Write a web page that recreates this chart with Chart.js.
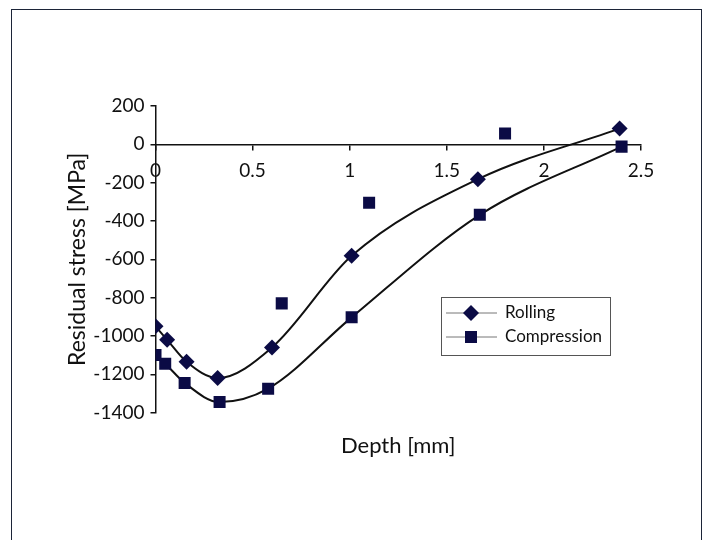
<!DOCTYPE html>
<html>
<head>
<meta charset="utf-8">
<script src="https://cdn.jsdelivr.net/npm/chart.js@4"></script>
<style>
  html, body { margin: 0; padding: 0; background: #fff; }
  #frame { position: absolute; left: 11px; top: 9px; width: 689px; height: 540px; border: 1.5px solid #1c2438; border-bottom: none; }
  #wrap { position: absolute; left: 0; top: 0; width: 707px; height: 540px; }
</style>
</head>
<body>
<div id="frame"></div>
<div id="wrap"><canvas id="stressChart"></canvas></div>
<script>
const rollingDepth = [0, 0.06, 0.16, 0.32, 0.6, 1.01, 1.66, 2.39];
const rollingStress = [-950, -1020, -1135, -1220, -1060, -582, -182, 82];

const compressionDepth = [0, 0.05, 0.15, 0.33, 0.58, 0.65, 1.01, 1.1, 1.67, 1.8, 2.4];
const compressionStress = [-1100, -1145, -1245, -1345, -1275, -830, -903, -305, -368, 57, -12];
// points the fitted curve runs through (the rest are scatter only)
const compressionOnCurve = [true, true, true, true, true, false, true, false, true, false, true];

const depthTicks = [0, 0.5, 1, 1.5, 2, 2.5];
const stressTicks = [-1400, -1200, -1000, -800, -600, -400, -200, 0, 200];

const markColor = "#0b0b45";
const fontFamily = "Lato, 'DejaVu Sans', sans-serif";

const toPoints = (xs, ys) => xs.map((x, i) => ({ x: x, y: ys[i] }));
const rollingPts = toPoints(rollingDepth, rollingStress);
const compressionPts = toPoints(compressionDepth, compressionStress);
const compressionCurvePts = compressionPts.filter((p, i) => compressionOnCurve[i]);

// legend drawn like the original: short line with marker in the middle
const boxLegend = {
  id: "boxLegend",
  afterDraw(chart) {
    const ctx = chart.ctx;
    const x0 = 441, y0 = 297, w = 169, h = 58;
    ctx.save();
    ctx.strokeStyle = "#555";
    ctx.lineWidth = 1;
    ctx.strokeRect(x0 + 0.5, y0 + 0.5, w, h);
    const rows = [
      { label: "Rolling", y: y0 + 16, style: "diamond" },
      { label: "Compression", y: y0 + 40, style: "square" }
    ];
    rows.forEach(r => {
      ctx.strokeStyle = "#777";
      ctx.lineWidth = 1;
      ctx.beginPath();
      ctx.moveTo(x0 + 5, r.y);
      ctx.lineTo(x0 + 56, r.y);
      ctx.stroke();
      ctx.fillStyle = markColor;
      const cx = x0 + 30;
      if (r.style === "diamond") {
        ctx.beginPath();
        ctx.moveTo(cx, r.y - 8);
        ctx.lineTo(cx + 8, r.y);
        ctx.lineTo(cx, r.y + 8);
        ctx.lineTo(cx - 8, r.y);
        ctx.closePath();
        ctx.fill();
      } else {
        ctx.fillRect(cx - 6, r.y - 6, 12, 12);
      }
      ctx.fillStyle = "#111";
      ctx.font = "17px " + fontFamily;
      ctx.textBaseline = "middle";
      ctx.textAlign = "left";
      ctx.fillText(r.label, x0 + 64, r.y);
    });
    ctx.restore();
  }
};

const stressChart = new Chart(document.getElementById("stressChart"), {
  type: "scatter",
  data: {
    datasets: [
      {
        label: "Rolling",
        data: rollingPts,
        pointStyle: "rectRot",
        pointRadius: 8,
        pointHoverRadius: 8,
        backgroundColor: markColor,
        borderColor: markColor,
        borderWidth: 0,
        showLine: false,
        order: 1
      },
      {
        label: "Compression",
        data: compressionPts,
        pointStyle: "rect",
        pointRadius: 8.5,
        pointHoverRadius: 8.5,
        backgroundColor: markColor,
        borderColor: markColor,
        borderWidth: 0,
        showLine: false,
        order: 1
      },
      {
        label: "Rolling fit",
        data: rollingPts,
        showLine: true,
        pointRadius: 0,
        borderColor: "#111",
        borderWidth: 2,
        cubicInterpolationMode: "monotone",
        order: 2
      },
      {
        label: "Compression fit",
        data: compressionCurvePts,
        showLine: true,
        pointRadius: 0,
        borderColor: "#111",
        borderWidth: 2,
        cubicInterpolationMode: "monotone",
        order: 2
      }
    ]
  },
  options: {
    responsive: true,
    maintainAspectRatio: false,
    animation: false,
    layout: { padding: { left: 0, right: 66, top: 106, bottom: 70 } },
    plugins: {
      legend: { display: false },
      tooltip: { enabled: false },
      title: {
        display: true,
        text: "Depth [mm]",
        position: "bottom",
        fullSize: false,
        color: "#111",
        font: { family: fontFamily, size: 22, weight: "normal" },
        padding: { top: 20, bottom: 11 }
      }
    },
    scales: {
      x: {
        type: "linear",
        position: { y: 0 },
        min: 0,
        max: 2.5,
        afterBuildTicks: s => { s.ticks = depthTicks.map(v => ({ value: v })); },
        ticks: {
          color: "#111",
          padding: 10,
          font: { family: fontFamily, size: 19 },
          callback: v => String(v)
        },
        grid: { drawOnChartArea: false, drawTicks: true, tickLength: 5, color: "#111", lineWidth: 1.5 },
        border: { display: true, color: "#111", width: 1.5 }
      },
      y: {
        type: "linear",
        position: "left",
        min: -1400,
        max: 200,
        afterBuildTicks: s => { s.ticks = stressTicks.map(v => ({ value: v })); },
        afterFit: s => { s.width = 155.5; },
        ticks: {
          color: "#111",
          padding: 6,
          font: { family: fontFamily, size: 19 },
          callback: v => String(v)
        },
        grid: { drawOnChartArea: false, drawTicks: true, tickLength: 5, color: "#111", lineWidth: 1.5 },
        border: { display: true, color: "#111", width: 1.5 },
        title: {
          display: true,
          text: "Residual stress [MPa]",
          color: "#111",
          font: { family: fontFamily, size: 23, weight: "normal" },
          padding: { top: 64, bottom: 0 }
        }
      }
    }
  },
  plugins: [boxLegend]
});
</script>
</body>
</html>
